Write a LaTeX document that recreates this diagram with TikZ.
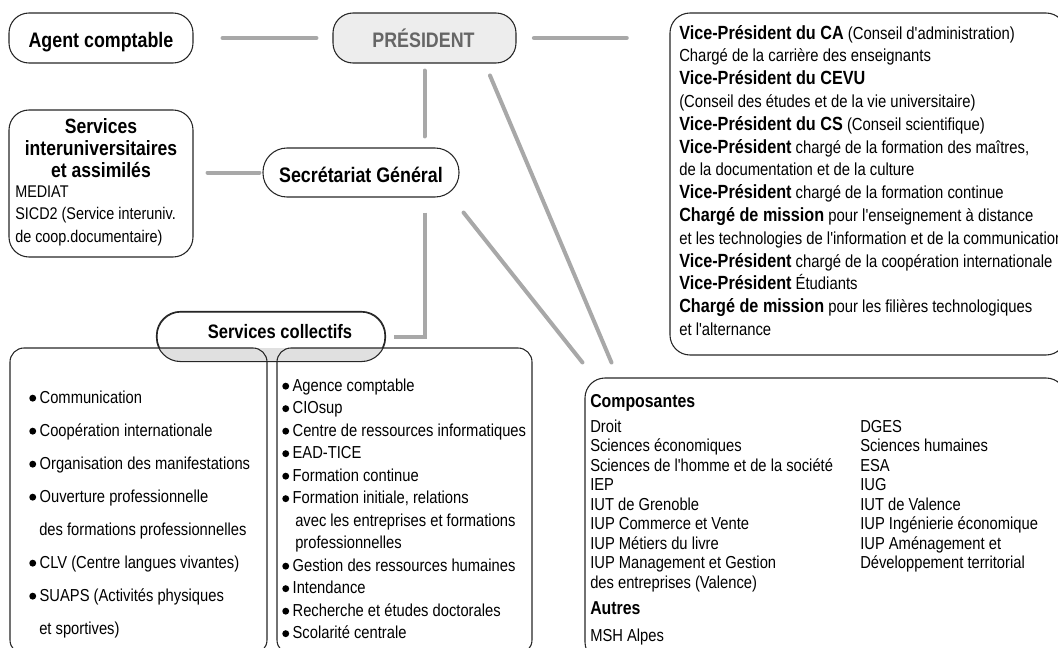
\documentclass[tikz,border=0pt]{standalone}
\usepackage{fontspec}
\newfontfamily\ff{Liberation Sans}[FakeStretch=0.85]
\usetikzlibrary{fit,calc}
\definecolor{conn}{HTML}{A8A8A8}
\definecolor{presfill}{HTML}{EDEDED}
\definecolor{presink}{HTML}{666666}
\definecolor{scfill}{HTML}{E0E0E0}
\definecolor{edge}{HTML}{262626}
\newcommand\boldpart[1]{{\fontsize{14.3}{17}\selectfont\bfseries #1}}
\newcommand\bul{\tikz[baseline=0pt]\fill (0,0.28em) circle[radius=0.2em];\hspace{0.2em}}
\tikzset{
  lnk/.style={draw=conn, line width=3pt, line cap=round},
  tbox/.style={draw=edge, line width=0.8pt, rounded corners=15pt, inner sep=0pt},
  ttl/.style={font=\ff\bfseries\fontsize{15.75}{18}\selectfont, inner sep=0pt, anchor=base},
  body/.style={font=\ff\fontsize{13}{15}\selectfont, inner sep=0pt, anchor=base west},
  vpbody/.style={body, font=\ff\fontsize{13.1}{15}\selectfont},
  bhead/.style={font=\ff\bfseries\fontsize{14}{17}\selectfont, inner sep=0pt, anchor=base west},
}
\begin{document}
\begin{tikzpicture}[x=0.75pt,y=-0.75pt]
\useasboundingbox (0,0) rectangle (1058,647);

% ---- boxes ----
\node[tbox, fit={(9,13)(193,63)}] (agent) {};
\node[tbox, fill=presfill, fit={(333,13)(516,63)}] (pres) {};
\node[tbox, fit={(670,13)(1066,355)}] (vp) {};
\node[tbox, fit={(9,110)(193,257)}] (si) {};
\node[tbox, rounded corners=18pt, fit={(263,148)(459,197)}] (sec) {};
\node[tbox, fit={(585,378)(1066,662)}] (comp) {};

% Services collectifs header and its two boxes
\node[tbox, fill=white, rounded corners=18pt, fit={(157,312)(385,361)}] (sc) {};
\begin{scope}
  \clip (150,348) rectangle (400,370);
  \fill[scfill, rounded corners=18pt] (sc.north west) rectangle (sc.south east);
\end{scope}
\draw[draw=edge, line width=0.8pt, rounded corners=18pt] (sc.north west) rectangle (sc.south east);
\node[tbox, rounded corners=10.5pt, fit={(10,348)(267,654)}] (lbox) {};
\node[tbox, rounded corners=10.5pt, fit={(277,348)(532,654)}] (rbox) {};

% ---- connectors ----
\draw[lnk, shorten <=21.75pt, shorten >=12pt] (agent.east) -- (pres.west);
\draw[lnk, shorten <=13pt, shorten >=32pt] (pres.east) -- (pres.east -| vp.west);
\draw[lnk, shorten <=5.25pt, shorten >=8.25pt] (pres.south) -- (pres.south |- sec.north);
\draw[lnk, shorten <=2.25pt, shorten >=10.5pt] (sec.west) -- (sec.west -| si.east);
\draw[lnk, line cap=butt] ($(sec.south)+(64,15)$) |- ([xshift=6pt]sc.east);
\draw[lnk] ($(pres.south)+(65.5,12)$) -- ($(comp.north west)+(27,-15)$);
\draw[lnk] ($(sec.south east)+(4,15)$) -- ($(comp.north west)+(-2,-15)$);

% ---- titles ----
\node[ttl] (agentt) at (101,47.5) {Agent comptable};
\node[ttl, text=presink] (prest) at (423.5,47.5) {PRÉSIDENT};
\node[ttl] (sect) at (361,182) {Secrétariat Général};
\node[ttl, font=\ff\bfseries\fontsize{14.6}{17}\selectfont] (sctext) at (280,338.5) {Services collectifs};

% ---- Services interuniversitaires ----
\foreach \y/\t [count=\i] in {133/Services, 155.5/interuniversitaires, 177.5/{et assimilés}}
  \node[ttl, font=\ff\bfseries\fontsize{15.5}{18}\selectfont] (sit\i) at (101,\y) {\t};
\foreach \y/\t [count=\i] in {197/MEDIAT, 219.5/{SICD2 (Service interuniv.}, 242/{de coop.documentaire)}}
  \node[body, font=\ff\fontsize{12.7}{15}\selectfont] (sil\i) at (15,\y) {\t};

% ---- Vice-présidents ----
\foreach \t [count=\i] in {
  {\boldpart{Vice-Président du CA} (Conseil d'administration)},
  {Chargé de la carrière des enseignants},
  {\boldpart{Vice-Président du CEVU}},
  {(Conseil des études et de la vie universitaire)},
  {\boldpart{Vice-Président du CS} (Conseil scientifique)},
  {\boldpart{Vice-Président} chargé de la formation des maîtres,},
  {de la documentation et de la culture},
  {\boldpart{Vice-Président} chargé de la formation continue},
  {\boldpart{Chargé de mission} pour l'enseignement à distance},
  {et les technologies de l'information et de la communication},
  {\boldpart{Vice-Président} chargé de la coopération internationale},
  {\boldpart{Vice-Président} Étudiants},
  {\boldpart{Chargé de mission} pour les filières technologiques},
  {et l'alternance}}
  \node[vpbody] (vpl\i) at (679,{16.2+22.8*\i}) {\t};

% ---- Services collectifs, left ----
\foreach \x/\y/\t [count=\i] in {
  29/403/{\bul Communication},
  29/436/{\bul Coopération internationale},
  29/469/{\bul Organisation des manifestations},
  29/502/{\bul Ouverture professionnelle},
  39/535/{des formations professionnelles},
  29/568/{\bul CLV (Centre langues vivantes)},
  29/601/{\bul SUAPS (Activités physiques},
  39/634/{et sportives)}}
  \node[body] (scl\i) at (\x,\y) {\t};

% ---- Services collectifs, right ----
\foreach \x/\t [count=\i] in {
  282/{\bul Agence comptable},
  282/{\bul CIOsup},
  282/{\bul Centre de ressources informatiques},
  282/{\bul EAD-TICE},
  282/{\bul Formation continue},
  282/{\bul Formation initiale, relations},
  295/{avec les entreprises et formations},
  295/{professionnelles},
  282/{\bul Gestion des ressources humaines},
  282/{\bul Intendance},
  282/{\bul Recherche et études doctorales},
  282/{\bul Scolarité centrale}}
  \node[body] (scr\i) at (\x,{368.5+22.5*\i}) {\t};

% ---- Composantes ----
\node[bhead] (compt) at (590,407) {Composantes};
\foreach \t [count=\i] in {Droit, {Sciences économiques}, {Sciences de l'homme et de la société}, IEP,
  {IUT de Grenoble}, {IUP Commerce et Vente}, {IUP Métiers du livre}, {IUP Management et Gestion},
  {des entreprises (Valence)}}
  \node[body] (cl\i) at (590,{412.5+19.5*\i}) {\t};
\foreach \t [count=\i] in {DGES, {Sciences humaines}, ESA, IUG, {IUT de Valence},
  {IUP Ingénierie économique}, {IUP Aménagement et}, {Développement territorial}}
  \node[body] (cr\i) at (860,{412.5+19.5*\i}) {\t};
\node[bhead] (autt) at (590,614) {Autres};
\node[body] (msh) at (590,641) {MSH Alpes};
\end{tikzpicture}
\end{document}
